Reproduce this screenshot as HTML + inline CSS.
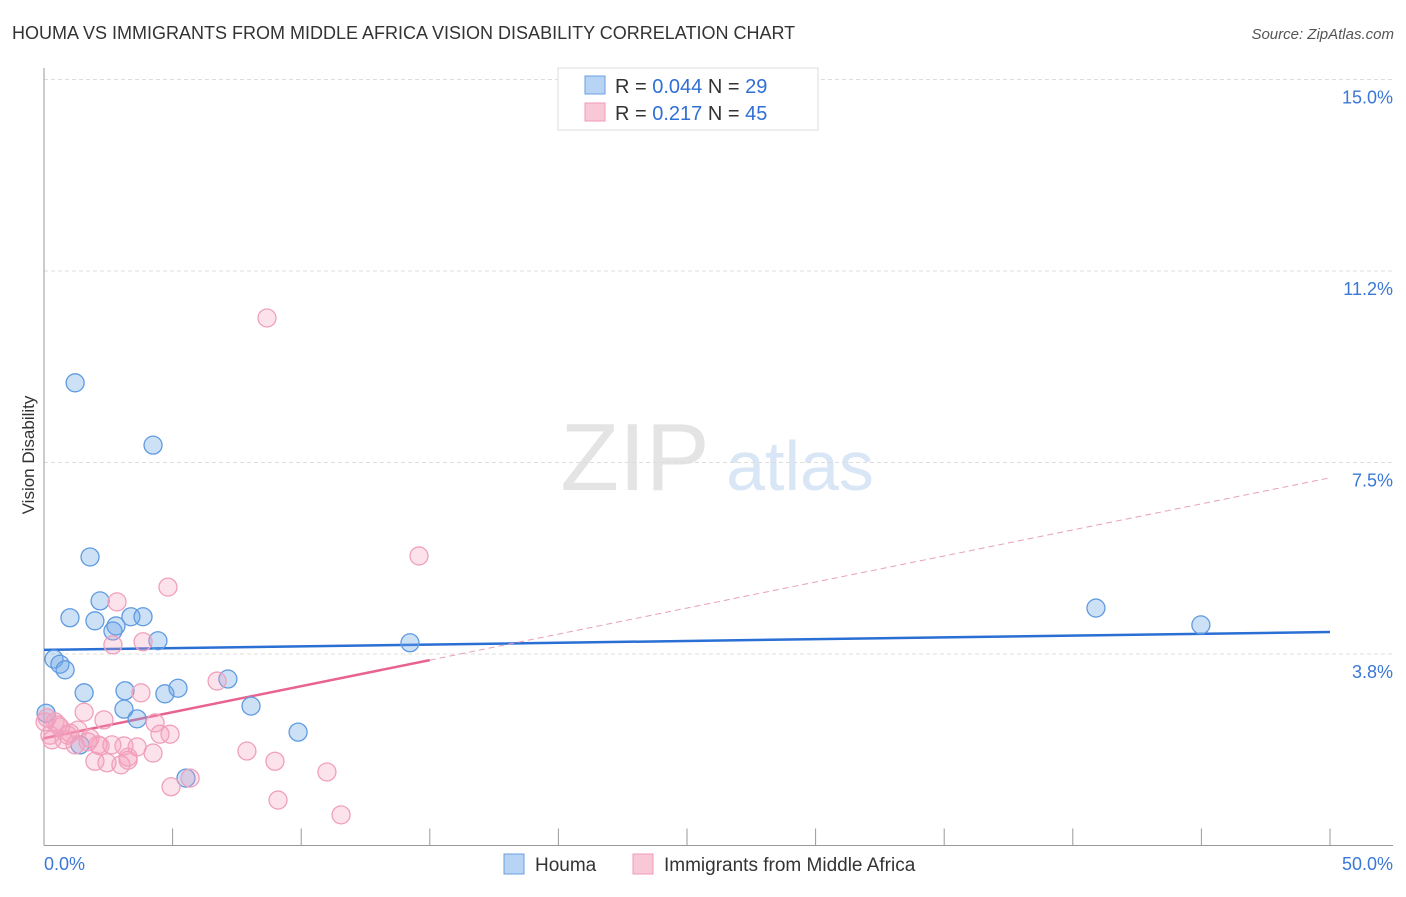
<!DOCTYPE html>
<html><head><meta charset="utf-8"><style>
body{margin:0;background:#fff;font-family:"Liberation Sans",sans-serif;}
svg text{font-family:"Liberation Sans",sans-serif;}
</style></head><body>
<svg id="chart" width="1406" height="892">
<text x="12" y="39" font-size="18" fill="#333">HOUMA VS IMMIGRANTS FROM MIDDLE AFRICA VISION DISABILITY CORRELATION CHART</text>
<text x="1394" y="39" font-size="15" fill="#555" text-anchor="end" font-style="italic">Source: ZipAtlas.com</text>
<text x="635" y="490" font-size="96" fill="#e4e4e4" font-family="Liberation Serif" text-anchor="middle">ZIP</text>
<text x="800" y="490" font-size="70" fill="#d8e6f6" text-anchor="middle">atlas</text>
<g id="grid"></g><g id="axes"></g><g id="trends"></g><g id="points"></g>
<text x="34" y="455" font-size="17" fill="#333" text-anchor="middle" transform="rotate(-90 34 455)">Vision Disability</text>
<g>
<rect x="558" y="68" width="260" height="62" fill="#fff" stroke="#ddd"/>
<rect x="585" y="76" width="20" height="18" fill="#b8d4f4" stroke="#6aa0e0"/>
<text x="615" y="93" font-size="20" fill="#333">R = <tspan fill="#2f6fd6">0.044</tspan>   N = <tspan fill="#2f6fd6">29</tspan></text>
<rect x="585" y="103" width="20" height="18" fill="#f9c8d6" stroke="#f09ab8"/>
<text x="615" y="120" font-size="20" fill="#333">R =  <tspan fill="#2f6fd6">0.217</tspan>   N = <tspan fill="#2f6fd6">45</tspan></text>
</g>
<g>
<rect x="504" y="854" width="20" height="20" fill="#b8d4f4" stroke="#6aa0e0"/>
<text x="535" y="871" font-size="19" fill="#333">Houma</text>
<rect x="633" y="854" width="20" height="20" fill="#f9c8d6" stroke="#f09ab8"/>
<text x="664" y="871" font-size="19" fill="#333">Immigrants from Middle Africa</text>
</g>
</svg>
<script>
const yTicks=[3.75,7.5,11.25,15];
const yTickLabels=["3.8%","7.5%","11.2%","15.0%"];
const xTickVals=[0,5,10,15,20,25,30,35,40,45,50];
const houmaX=[1.21,4.24,1.79,2.18,1.01,1.98,2.80,2.68,3.38,3.85,4.43,14.23,40.90,44.98,0.39,0.62,0.82,1.56,3.15,4.70,5.21,7.15,3.11,3.62,8.05,9.88,0.08,1.40,5.52];
const houmaY=[9.06,7.84,5.65,4.79,4.46,4.40,4.30,4.20,4.48,4.48,4.01,3.97,4.65,4.32,3.65,3.55,3.44,2.99,3.03,2.97,3.08,3.26,2.67,2.48,2.73,2.22,2.59,1.97,1.32];
const immX=[8.67,14.58,4.82,2.84,2.68,3.85,6.73,3.77,0.12,0.43,0.62,1.56,2.33,1.32,1.79,0.78,0.31,2.18,3.11,3.62,4.32,4.51,4.90,7.89,8.98,1.98,2.45,2.99,3.27,4.24,11.00,5.68,4.94,9.10,11.55,1.01,1.71,2.64,0.04,0.54,0.93,3.27,1.21,2.10,0.23];
const immY=[10.33,5.67,5.06,4.77,3.93,3.99,3.22,2.99,2.50,2.42,2.32,2.61,2.46,2.26,2.10,2.07,2.07,1.95,1.95,1.93,2.40,2.18,2.18,1.85,1.65,1.65,1.62,1.58,1.73,1.81,1.44,1.32,1.15,0.89,0.60,2.20,2.03,1.97,2.42,2.36,2.16,1.67,1.97,1.97,2.16];
const houmaTrend=[3.83,4.18];
const immTrend=[2.10,3.63,7.2];
const NS="http://www.w3.org/2000/svg";
const X0=44,X1=1330,Y0=845.5,YT=79.5;
const sx=v=>X0+(v/50)*(X1-X0);
const sy=v=>Y0-(v/15)*(Y0-YT);
function mk(tag,attrs,parent){const e=document.createElementNS(NS,tag);for(const k in attrs)e.setAttribute(k,attrs[k]);document.getElementById(parent).appendChild(e);return e;}
yTicks.forEach((t,i)=>{
 const l=mk('line',{x1:X0,x2:1393,y1:sy(t),y2:sy(t),stroke:'#ddd','stroke-dasharray':'4,3'},'grid');
 
 
 const tx=mk('text',{x:1393,y:sy(t)+24,'font-size':18,fill:'#3a78d6','text-anchor':'end'},'grid');
 tx.textContent=yTickLabels[i];
 
 
});
const ax=mk('line',{x1:X0,x2:X0,y1:68,y2:Y0,stroke:'#999'},'axes');


const bx=mk('line',{x1:X0,x2:1393,y1:Y0,y2:Y0,stroke:'#999'},'axes');


xTickVals.forEach(v=>{
 const t=mk('line',{x1:sx(v),x2:sx(v),y1:Y0,y2:Y0-17,stroke:'#999'},'axes');
 
 
});
const xl=mk('text',{x:X0,y:870,'font-size':18,fill:'#3a78d6'},'axes');xl.textContent='0.0%';


const xr=mk('text',{x:1393,y:870,'font-size':18,fill:'#3a78d6','text-anchor':'end'},'axes');xr.textContent='50.0%';


houmaX.forEach((x,i)=>{
 const c=mk('circle',{cx:sx(x),cy:sy(houmaY[i]),r:9,fill:'rgba(110,165,230,0.35)',stroke:'#5f9be0','stroke-width':1.3},'points');
 
 
});
immX.forEach((x,i)=>{
 const c=mk('circle',{cx:sx(x),cy:sy(immY[i]),r:9,fill:'rgba(245,160,190,0.3)',stroke:'#f0a0bc','stroke-width':1.3},'points');
 
 
});
const bt=mk('line',{x1:sx(0),y1:sy(houmaTrend[0]),x2:sx(50),y2:sy(houmaTrend[1]),stroke:'#2a6fd4','stroke-width':2.5},'trends');


const pt=mk('line',{x1:sx(0),y1:sy(immTrend[0]),x2:sx(15),y2:sy(immTrend[1]),stroke:'#e8648e','stroke-width':2.5},'trends');


const pd=mk('line',{x1:sx(15),y1:sy(immTrend[1]),x2:sx(50),y2:sy(immTrend[2]),stroke:'#e8a0b8','stroke-width':1,'stroke-dasharray':'6,4'},'trends');


</script>
</body></html>
